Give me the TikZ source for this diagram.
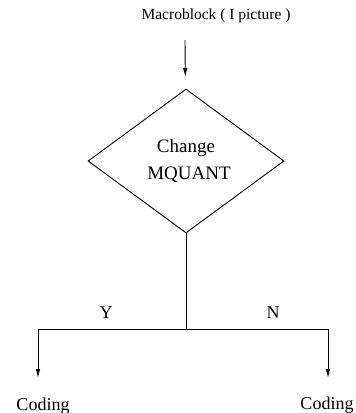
\documentclass[tikz,border=0pt]{standalone}
\usepackage{fontspec}
\setmainfont{Liberation Serif}
\usetikzlibrary{positioning, arrows.meta, shapes.geometric}

\begin{document}
\begin{tikzpicture}[x=1pt, y=-1pt, line width=0.9pt,
    decision/.style={draw, diamond, minimum width=196pt, minimum height=144pt, inner sep=0pt, align=center, font=\fontsize{19}{21}\selectfont},
    lbl/.style={inner sep=0pt, font=\fontsize{18}{20}\selectfont},
    arr/.style={arrows = {-Latex[width=4.5pt, length=9pt]}}]
  \useasboundingbox (0,0) rectangle (356,413);

  % Input and decision
  \node[lbl, font=\fontsize{15.5}{18}\selectfont] at (216,16) (mb) {Macroblock ( I picture )};
  \coordinate (in) at (185,40);
  \node[decision] at (186,161) (mq) {Change\\[6pt]\hspace*{6pt}MQUANT};

  % Branches
  \coordinate (split) at (186,329);
  \coordinate (yes) at (38,329);
  \coordinate (no) at (328,329);
  \coordinate (yesend) at (38,378);
  \coordinate (noend) at (328,378);
  \node[lbl] at (106,313) (y) {Y};
  \node[lbl] at (273,313) (n) {N};
  \node[lbl] at (43,406) (cy) {Coding};
  \node[lbl] at (327,405) (cn) {Coding};

  \draw[arr, shorten >=12pt] (in) -- (mq);
  \draw (mq) -- (split);
  \draw (yes) -- (no);
  \draw[arr] (yes) -- (yesend);
  \draw[arr] (no) -- (noend);
\end{tikzpicture}
\end{document}
